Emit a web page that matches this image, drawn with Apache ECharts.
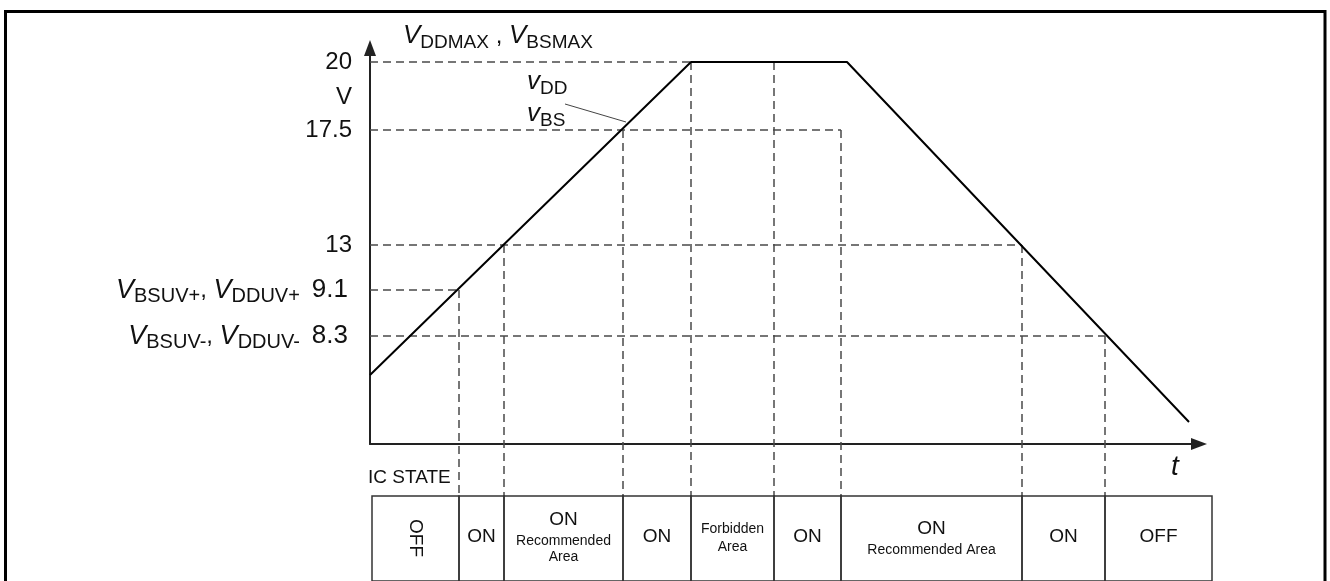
<!DOCTYPE html>
<html><head><meta charset="utf-8">
<script src="https://cdn.jsdelivr.net/npm/echarts@6/dist/echarts.min.js"></script>
<style>html,body{margin:0;padding:0;background:#fff;}#c{width:1330px;height:581px;}</style>
</head><body><div id="c"></div>
<script>
// Schematic diagram: x = time (drawing units), y = drawing height of each voltage level
const levelLabels = ['20', 'V', '17.5', '13', '9.1', '8.3'];
const levelHeights = [382, 347, 314, 199, 154, 108];
const levelSymbols = [null, null, null, null, ['BSUV+', 'DDUV+'], ['BSUV-', 'DDUV-']];

// supply voltage curve (VDD / VBS)
const curveT = [0, 321, 477, 819];
const curveH = [69, 382, 382, 22];

// dashed guide segments
const guideFrom = [[0,382],[0,314],[471,314],[0,199],[652,199],[0,154],[89,154],[0,108],[735,108],[134,199],[253,314],[321,382],[404,382]];
const guideTo   = [[321,382],[471,314],[471,-52],[652,199],[652,-52],[89,154],[89,-52],[735,108],[735,-52],[134,-52],[253,-52],[321,-52],[404,-52]];

// annotations
const noteT = [33, 157, 157, 805, -2];
const noteH = [408, 362, 330, -23, -34];
const noteText = ['{vi|V}{sub|DDMAX}{n| , }{vi|V}{sub|BSMAX}', '{vi|v}{sub|DD}', '{vi|v}{sub|BS}', '{ti|t}', '{s|IC STATE}'];
const noteAlign = ['left', 'left', 'left', 'center', 'left'];
const leaderFrom = [195, 340];
const leaderTo = [256, 322];

// IC state table
const cellStart = [2, 89, 134, 253, 321, 404, 471, 652, 735];
const cellEnd   = [89, 134, 253, 321, 404, 471, 652, 735, 842];
const cellMain  = ['OFF', 'ON', 'ON', 'ON', '', 'ON', 'ON', 'ON', 'OFF'];
const cellSub   = ['', '', 'Recommended\nArea', '', 'Forbidden\nArea', '', 'Recommended Area', '', ''];
const cellVertical = [true, false, false, false, false, false, false, false, false];

const FF = '"Liberation Sans", Arial, sans-serif';
const TXT = '#111';
const chart = echarts.init(document.getElementById('c'), null, {renderer: 'canvas'});

const richY = {
  n: {fontSize: 24, fontFamily: FF, color: TXT},
  m: {fontSize: 26, fontFamily: FF, color: TXT, padding: [0, 4, 0, 0]},
  g: {fontSize: 24, fontFamily: FF, color: TXT, width: 12},
  vi: {fontSize: 27, fontFamily: FF, fontStyle: 'italic', color: TXT},
  sub: {fontSize: 20, fontFamily: FF, color: TXT, verticalAlign: 'bottom', padding: [0, 0, -3, 0]}
};

function yLabel(v) {
  const i = levelHeights.indexOf(v);
  if (i < 0) return '';
  const s = levelSymbols[i];
  if (!s) return '{n|' + levelLabels[i] + '}';
  return '{vi|V}{sub|' + s[0] + '}{n|, }{vi|V}{sub|' + s[1] + '}{g| }{m|' + levelLabels[i] + '}';
}

const option = {
  animation: false,
  backgroundColor: '#fff',
  graphic: [{
    type: 'rect', z: 100,
    shape: {x: 5.5, y: 11.5, width: 1319.5, height: 640},
    style: {fill: 'none', stroke: '#000', lineWidth: 3}
  }],
  grid: [
    {left: 370, right: 131, top: 48, bottom: 137},
    {left: 370, right: 131, top: 496, height: 87}
  ],
  xAxis: [
    {type: 'value', gridIndex: 0, min: 0, max: 829,
      axisLine: {show: true, onZero: true, symbol: ['none', 'triangle'], symbolSize: [12, 16],
        lineStyle: {color: '#222', width: 2}},
      axisTick: {show: false}, axisLabel: {show: false}, splitLine: {show: false}},
    {type: 'value', gridIndex: 1, min: 0, max: 829, show: false}
  ],
  yAxis: [
    {type: 'value', gridIndex: 0, min: 0, max: 396,
      axisLine: {show: true, symbol: ['none', 'triangle'], symbolSize: [12, 16],
        lineStyle: {color: '#222', width: 2}},
      axisTick: {show: false}, splitLine: {show: false},
      axisLabel: {show: true, customValues: levelHeights, formatter: yLabel, margin: 18, rich: richY,
        showMinLabel: true, showMaxLabel: true}},
    {type: 'value', gridIndex: 1, min: 0, max: 1, show: false}
  ],
  series: [
    {
      type: 'lines', coordinateSystem: 'cartesian2d', xAxisIndex: 0, yAxisIndex: 0, clip: false,
      lineStyle: {color: '#4a4a4a', width: 1.5, type: [8, 5], opacity: 1},
      data: guideFrom.map((f, i) => ({coords: [f, guideTo[i]]}))
    },
    {
      type: 'lines', coordinateSystem: 'cartesian2d', xAxisIndex: 0, yAxisIndex: 0, clip: false,
      lineStyle: {color: '#444', width: 1, type: 'solid', opacity: 1},
      data: [{coords: [leaderFrom, leaderTo]}]
    },
    {
      type: 'line', xAxisIndex: 0, yAxisIndex: 0, symbol: 'none', z: 5,
      lineStyle: {color: '#000', width: 2},
      data: curveT.map((t, i) => [t, curveH[i]])
    },
    {
      type: 'scatter', xAxisIndex: 0, yAxisIndex: 0, clip: false, symbolSize: 0, silent: true,
      itemStyle: {opacity: 1},
      data: noteT.map((t, i) => ({
        value: [t, noteH[i]],
        label: {show: true, formatter: noteText[i], opacity: 1,
          position: noteAlign[i] === 'left' ? 'right' : 'inside', distance: 0,
          rich: {
            n: {fontSize: 24, fontFamily: FF, color: TXT},
            vi: {fontSize: 26, fontFamily: FF, fontStyle: 'italic', color: TXT},
            sub: {fontSize: 19, fontFamily: FF, color: TXT, verticalAlign: 'bottom', padding: [0, 0, -3, 0]},
            ti: {fontSize: 28, fontFamily: FF, fontStyle: 'italic', color: TXT},
            s: {fontSize: 19, fontFamily: FF, color: TXT}
          }}
      }))
    },
    {
      type: 'custom', xAxisIndex: 1, yAxisIndex: 1, clip: false,
      data: cellStart.map((s, i) => [s, cellEnd[i], i]),
      renderItem: function (params, api) {
        const i = api.value(2);
        const x0 = api.coord([api.value(0), 1])[0];
        const x1 = api.coord([api.value(1), 1])[0];
        const yTop = api.coord([0, 1])[1];
        const yBot = api.coord([0, 0])[1];
        const cx = (x0 + x1) / 2;
        const children = [{
          type: 'rect',
          shape: {x: x0, y: yTop, width: x1 - x0, height: yBot - yTop},
          style: {fill: 'none', stroke: '#333', lineWidth: 1.5}
        }];
        const main = cellMain[i], sub = cellSub[i];
        const mk = (text, y, size, rot) => ({
          type: 'text', x: cx, y: y, rotation: rot || 0,
          style: {text: text, fontSize: size, fontFamily: FF, fill: TXT, align: 'center', verticalAlign: 'middle'}
        });
        if (cellVertical[i]) {
          children.push(mk(main, yTop + 42, 19, -Math.PI / 2));
        } else if (!sub) {
          children.push(mk(main, yTop + 41, 19));
        } else {
          const lines = sub.split('\n');
          if (main && lines.length === 2) {
            children.push(mk(main, yTop + 24, 19));
            children.push(mk(lines[0], yTop + 45, 14));
            children.push(mk(lines[1], yTop + 61, 14));
          } else if (main) {
            children.push(mk(main, yTop + 33, 19));
            children.push(mk(lines[0], yTop + 54, 14));
          } else {
            children.push(mk(lines[0], yTop + 33, 14));
            children.push(mk(lines[1], yTop + 51, 14));
          }
        }
        return {type: 'group', children: children};
      }
    }
  ]
};
chart.setOption(option);
</script>
</body></html>
